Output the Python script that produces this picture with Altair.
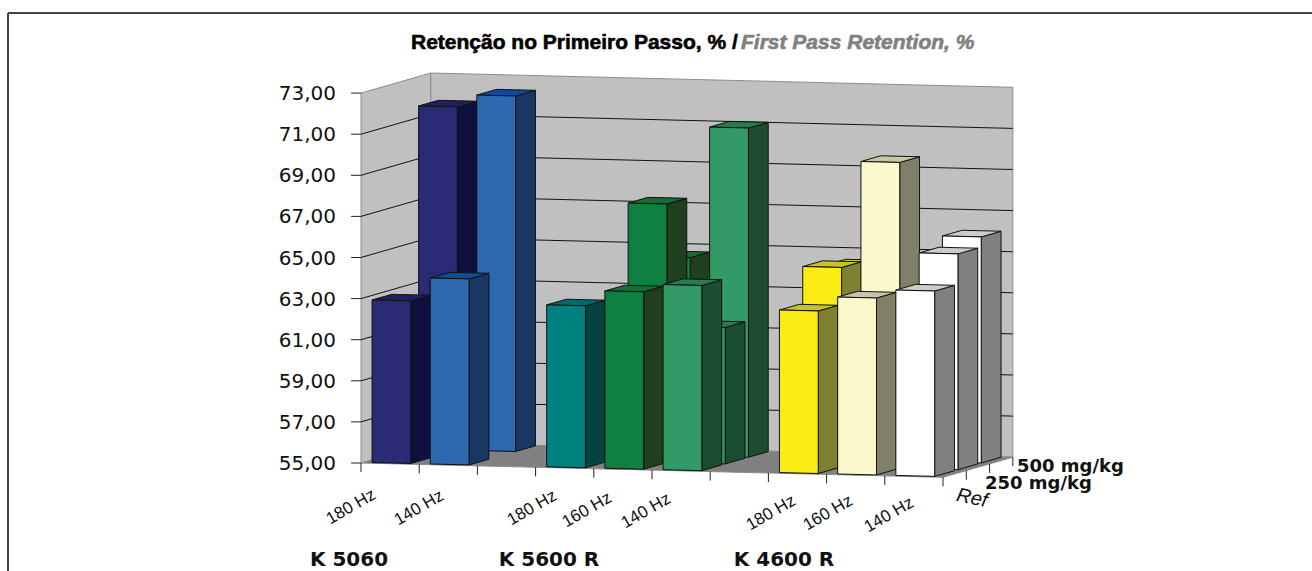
import altair as alt
import pandas as pd

# Retention values per row of the 3D column chart, one entry per (slot, value)
ROW_REF = [(0, 62.91), (1, 64.05), (3, 62.88), (4, 63.63), (5, 64.01), (7, 62.91), (8, 63.61), (9, 64.02)]
ROW_250 = [(4, 67.58), (5, 61.64), (7, 64.70), (8, 69.88), (9, 65.50)]
ROW_500 = [(0, 71.70), (1, 72.30), (4, 64.64), (5, 71.02), (7, 64.45), (9, 66.00)]

Y_TICKS = [55, 57, 59, 61, 63, 65, 67, 69, 71, 73]
HZ_LABELS = ["180 Hz", "140 Hz", "180 Hz", "160 Hz", "140 Hz", "180 Hz", "160 Hz", "140 Hz"]
GROUP_LABELS = ["K 5060", "K 5600 R", "K 4600 R"]
DEPTH_LABELS = ["Ref", "250 mg/kg", "500 mg/kg"]

# face colours (front, side, top) for each slot
PALETTE = {
    0: ("#2a2a75", "#10103f", "#20205f"),
    1: ("#2d69b1", "#1a3663", "#0c4d9b"),
    3: ("#00807f", "#064240", "#006b6b"),
    4: ("#0e8040", "#1f3f1f", "#196b35"),
    5: ("#339966", "#1c4d33", "#2a7a50"),
    7: ("#f8ec14", "#808033", "#c8c428"),
    8: ("#fbf8ce", "#808066", "#c9c6a4"),
    9: ("#ffffff", "#808080", "#cccccc"),
}

# oblique projection: slot and depth shift the point along the sloped floor
SLOT_PX, UNIT_PX, ORIGIN_X, ORIGIN_Y = 58.2, 20.55, 361.0, 463.0
DEPTH_X, DEPTH_Y, SLOPE = 0.4, 0.326, 0.0696
BAR_LEFT, BAR_WIDTH, BAR_DEPTH, DEPTH_INSET = 0.15, 0.667, 0.85, 0.1


def project(slot, depth, value):
    return (slot + DEPTH_X * depth, value - SLOPE * slot + DEPTH_Y * depth)


def to_x(px):
    return (px - ORIGIN_X) / SLOT_PX


def to_y(py):
    return 55 + (ORIGIN_Y - py) / UNIT_PX


def polygon_rows(poly_id, fill, pts):
    """Express a convex polygon as x / y / y2 spans that an area mark can fill."""
    rows = []
    n = len(pts)
    for x in sorted({p[0] for p in pts}):
        hits = []
        for i in range(n):
            (x0, y0), (x1, y1) = pts[i], pts[(i + 1) % n]
            if min(x0, x1) <= x <= max(x0, x1):
                if x0 == x1:
                    hits += [y0, y1]
                else:
                    hits.append(y0 + (y1 - y0) * (x - x0) / (x1 - x0))
        rows.append({"poly": poly_id, "fill": fill, "x": x, "y": min(hits), "y2": max(hits)})
    return rows


def bar_faces(slot, row, value, start_id):
    front_c, side_c, top_c = PALETTE[slot]
    s0, s1 = slot + BAR_LEFT, slot + BAR_LEFT + BAR_WIDTH
    d0, d1 = row + DEPTH_INSET, row + DEPTH_INSET + BAR_DEPTH
    side = [project(s1, d0, 55), project(s1, d1, 55), project(s1, d1, value), project(s1, d0, value)]
    top = [project(s0, d0, value), project(s1, d0, value), project(s1, d1, value), project(s0, d1, value)]
    front = [project(s0, d0, 55), project(s1, d0, 55), project(s1, d0, value), project(s0, d0, value)]
    rows = []
    for k, (pts, col) in enumerate([(side, side_c), (top, top_c), (front, front_c)]):
        rows += polygon_rows(start_id + k, col, pts)
    return rows


X_SCALE = alt.Scale(domain=[to_x(0), to_x(1312)], nice=False, zero=False)
Y_SCALE = alt.Scale(domain=[to_y(571), to_y(0)], nice=False, zero=False)
X_ENC = alt.X("x:Q", scale=X_SCALE, axis=None)
Y_ENC = alt.Y("y:Q", scale=Y_SCALE, axis=None)

# chart walls and floor
wall_rows = []
wall_rows += polygon_rows(0, "#c0c0c0", [project(0, 0, 55), project(0, 3, 55), project(0, 3, 73), project(0, 0, 73)])
wall_rows += polygon_rows(1, "#c0c0c0", [project(0, 3, 55), project(10, 3, 55), project(10, 3, 73), project(0, 3, 73)])
wall_rows += polygon_rows(2, "#808080", [project(0, 0, 55), project(10, 0, 55), project(10, 3, 55), project(0, 3, 55)])
walls = alt.Chart(pd.DataFrame(wall_rows)).mark_area(stroke="#8c8c8c", strokeWidth=1).encode(
    x=X_ENC, y=alt.Y("y:Q", scale=Y_SCALE, axis=None, stack=None), y2="y2:Q",
    color=alt.Color("fill:N", scale=None), detail="poly:N",
)

# gridlines run along the left wall and then the back wall
grid_rows = []
for v in Y_TICKS[1:-1]:
    for i, (s, d) in enumerate([(0, 0), (0, 3), (10, 3)]):
        x, y = project(s, d, v)
        grid_rows.append({"line": v, "i": i, "x": x, "y": y})
grid = alt.Chart(pd.DataFrame(grid_rows)).mark_line(color="#111111", strokeWidth=1).encode(
    x=X_ENC, y=Y_ENC, detail="line:N", order="i:O",
)

# tick marks on the three axes
tick_rows = []
for v in Y_TICKS:
    x, y = project(0, 0, v)
    tick_rows += [{"t": f"y{v}", "x": x, "y": y}, {"t": f"y{v}", "x": x - 0.17, "y": y}]
for s in range(11):
    x, y = project(s, 0, 55)
    tick_rows += [{"t": f"x{s}", "x": x, "y": y}, {"t": f"x{s}", "x": x, "y": y - 0.44}]
for d in range(1, 4):
    x, y = project(10, d, 55)
    tick_rows += [{"t": f"d{d}", "x": x, "y": y}, {"t": f"d{d}", "x": x, "y": y - 0.44}]
ticks = alt.Chart(pd.DataFrame(tick_rows)).mark_line(color="#222222", strokeWidth=1).encode(
    x=X_ENC, y=Y_ENC, detail="t:N",
)

# columns painted back to front
face_rows = []
next_id = 10
for row, series in [(2, ROW_500), (1, ROW_250), (0, ROW_REF)]:
    for slot, value in series:
        face_rows += bar_faces(slot, row, value, next_id)
        next_id += 3
bars = alt.Chart(pd.DataFrame(face_rows)).mark_area(stroke="#111111", strokeWidth=1, strokeJoin="round").encode(
    x=X_ENC, y=alt.Y("y:Q", scale=Y_SCALE, axis=None, stack=None), y2="y2:Q",
    color=alt.Color("fill:N", scale=None), detail="poly:N",
)


def text_layer(rows, **mark):
    frame = pd.DataFrame(rows)
    return alt.Chart(frame).mark_text(**mark).encode(x=X_ENC, y=Y_ENC, text="label:N")


y_labels = text_layer(
    [{"x": to_x(336), "y": v, "label": f"{v},00"} for v in Y_TICKS],
    align="right", baseline="middle", dy=1, font="DejaVu Sans", fontSize=20, color="#111111",
)
hz_centres = [(351, 507), (419, 508), (532, 508), (587, 510), (646, 511), (771, 513), (828, 513), (889, 515)]
hz_labels = text_layer(
    [{"x": to_x(cx), "y": to_y(cy), "label": t} for t, (cx, cy) in zip(HZ_LABELS, hz_centres)],
    align="center", baseline="middle", font="Liberation Sans", fontSize=17, angle=330, color="#111111",
)
group_labels = text_layer(
    [{"x": to_x(cx), "y": to_y(560), "label": t} for t, cx in zip(GROUP_LABELS, [349, 549, 784])],
    align="center", baseline="middle", font="DejaVu Sans", fontWeight="bold", fontSize=20, color="#111111",
)
depth_bold = text_layer(
    [{"x": to_x(1017), "y": to_y(467), "label": DEPTH_LABELS[2]},
     {"x": to_x(985), "y": to_y(484), "label": DEPTH_LABELS[1]}],
    align="left", baseline="middle", font="DejaVu Sans", fontWeight="bold", fontSize=18, color="#111111",
)
ref_label = text_layer(
    [{"x": to_x(972), "y": to_y(498), "label": DEPTH_LABELS[0]}],
    align="center", baseline="middle", font="Liberation Sans", fontStyle="italic", fontSize=20, angle=12, color="#111111",
)
# a thin outline thickens the heavy title lettering
title_main = text_layer(
    [{"x": to_x(411), "y": to_y(43), "label": "Retenção no Primeiro Passo, % /"}],
    align="left", baseline="middle", font="Liberation Sans", fontWeight="bold", fontSize=21,
    color="#000000", stroke="#000000", strokeWidth=0.6,
)
title_en = text_layer(
    [{"x": to_x(741), "y": to_y(43), "label": "First Pass Retention, %"}],
    align="left", baseline="middle", font="Liberation Sans", fontWeight="bold", fontStyle="italic", fontSize=21,
    color="#808080", stroke="#808080", strokeWidth=0.6,
)

# frame around the chart area, open at the bottom and on the right
frame_lines = pd.DataFrame([
    {"e": "top", "x": to_x(8), "y": to_y(13)}, {"e": "top", "x": to_x(1312), "y": to_y(13)},
    {"e": "left", "x": to_x(8), "y": to_y(13)}, {"e": "left", "x": to_x(8), "y": to_y(571)},
])
frame = alt.Chart(frame_lines).mark_line(color="#444444", strokeWidth=2).encode(x=X_ENC, y=Y_ENC, detail="e:N")

chart = alt.layer(
    frame, walls, grid, ticks, bars, y_labels, hz_labels, group_labels, depth_bold, ref_label, title_main, title_en,
).properties(
    width=1312, height=571, padding=0, background="white",
    autosize=alt.AutoSizeParams(type="none"),
).configure_view(stroke=None)

chart.save("out.html", embed_options={"renderer": "svg", "actions": False})
